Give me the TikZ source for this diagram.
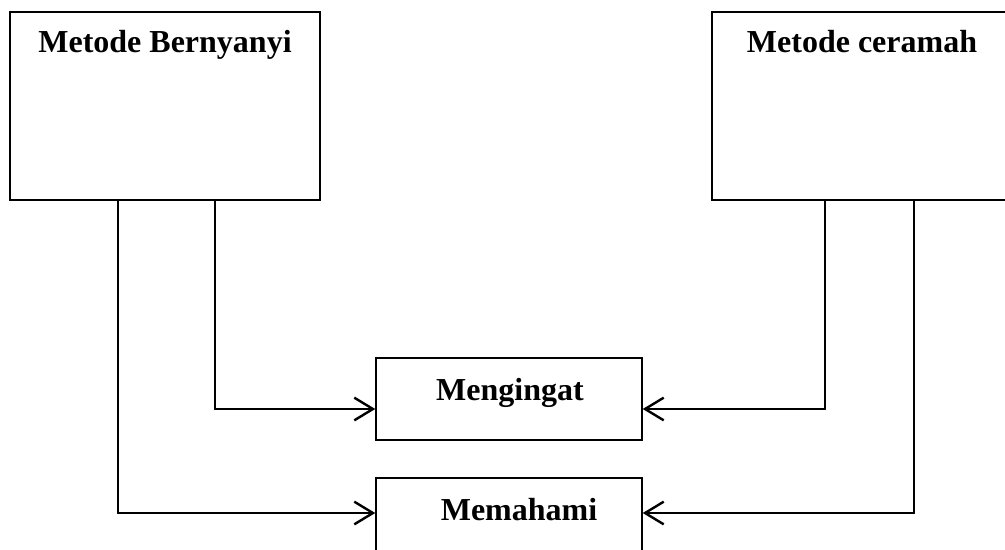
\documentclass[tikz,border=0pt]{standalone}
\usepackage{fontspec}
\setmainfont{Liberation Serif}
\usetikzlibrary{arrows.meta}
\tikzset{
  boxnode/.style={draw, line width=1.1pt, inner sep=0pt},
  lbl/.style={font=\fontsize{24}{28}\selectfont\bfseries, anchor=base, inner sep=0pt},
  conn/.style={line width=1.5pt, -{Straight Barb[length=14pt,width=17pt,line width=1.8pt]}}
}
\begin{document}
\begin{tikzpicture}[x=0.75pt,y=-0.75pt]
\useasboundingbox (0,0) rectangle (1005,549);
\fill[white] (0,0) rectangle (1005,549);
\clip (0,0) rectangle (1005,549);
\node[boxnode, minimum width=232.5pt, minimum height=141pt] (b1) at (165,106) {};
\node[boxnode, minimum width=225pt, minimum height=141pt] (b2) at (862,106) {};
\node[boxnode, minimum width=199.5pt, minimum height=61.5pt] (m1) at (509,399) {};
\node[boxnode, minimum width=199.5pt, minimum height=61.5pt] (m2) at (509,519) {};
\node[lbl] (t1) at (165,53) {Metode Bernyanyi};
\node[lbl] (t2) at (862,53) {Metode ceramah};
\node[lbl] (t3) at (510,400) {Mengingat};
\node[lbl] (t4) at (519,520) {Memahami};
\coordinate (a1) at (118,200);
\coordinate (a2) at (215,200);
\coordinate (a3) at (825,200);
\coordinate (a4) at (914,200);
\draw[conn] (a2) |- (m1.west |- 0,409);
\draw[conn] (a1) |- (m2.west |- 0,513);
\draw[conn] (a3) |- (m1.east |- 0,409);
\draw[conn] (a4) |- (m2.east |- 0,513);
\end{tikzpicture}
\end{document}
